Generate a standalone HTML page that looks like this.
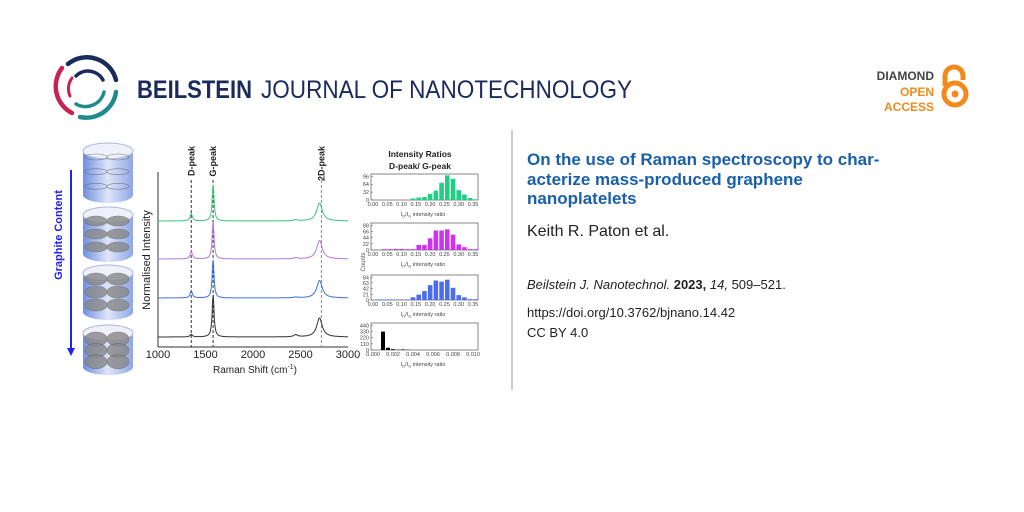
<!DOCTYPE html>
<html><head><meta charset="utf-8"><style>
body{margin:0;width:1024px;height:512px;background:#fff;overflow:hidden;position:relative;font-family:"Liberation Sans",sans-serif}
.a{position:absolute;white-space:nowrap}
</style></head><body>
<svg width="1024" height="512" style="position:absolute;left:0;top:0">
 <g fill="none" stroke-width="4.5" stroke-linecap="round">
  <path d="M68 64 A30 30 0 0 1 116 80" stroke="#1b2a5c"/>
  <path d="M116 92 A30 30 0 0 1 80 117" stroke="#1d8a8c"/>
  <path d="M72 113 A30 30 0 0 1 62 68" stroke="#c8234f"/>
  <path d="M76 76 A17 17 0 0 1 103 80" stroke="#1b2a5c" stroke-width="3.5"/>
  <path d="M104 92 A19 19 0 0 1 76 104" stroke="#1d8a8c" stroke-width="3.5"/>
  <path d="M70 96 A18 18 0 0 1 72 78" stroke="#c8234f" stroke-width="3"/>
 </g>
 <text x="137" y="98" font-size="25" font-weight="bold" fill="#1b2a5c" font-family="Liberation Sans" textLength="115" lengthAdjust="spacingAndGlyphs">BEILSTEIN</text>
 <text x="261" y="98" font-size="25" fill="#1b2a5c" font-family="Liberation Sans" textLength="371" lengthAdjust="spacingAndGlyphs">JOURNAL OF NANOTECHNOLOGY</text>
 <text x="934" y="80" font-size="12" font-weight="bold" fill="#444" text-anchor="end" font-family="Liberation Sans">DIAMOND</text>
 <text x="934" y="96" font-size="12" font-weight="bold" fill="#f08a1c" text-anchor="end" font-family="Liberation Sans">OPEN</text>
 <text x="934" y="111" font-size="12" font-weight="bold" fill="#f08a1c" text-anchor="end" font-family="Liberation Sans">ACCESS</text>
 <g fill="none" stroke="#f08a1c" stroke-width="5">
  <path d="M945 86 V76 A9 9 0 0 1 963 76 V80"/>
  <circle cx="955" cy="94" r="11"/>
  <circle cx="955" cy="94" r="3.5" fill="#f08a1c" stroke="none"/>
 </g>
 <line x1="512" y1="130" x2="512" y2="390" stroke="#999" stroke-width="1"/>
</svg>

<div class="a" style="left:527px;top:150px;font-size:17px;font-weight:bold;color:#1a5faa;line-height:19.5px">On the use of Raman spectroscopy to char-<br>acterize mass-produced graphene<br>nanoplatelets</div>
<div class="a" style="left:527px;top:223px;font-size:16px;color:#222">Keith R. Paton et al.</div>
<div class="a" style="left:527px;top:277px;font-size:13px;color:#222"><i>Beilstein J. Nanotechnol.</i> <b>2023,</b> <i>14,</i> 509–521.</div>
<div class="a" style="left:527px;top:305px;font-size:13px;color:#222">https://doi.org/10.3762/bjnano.14.42</div>
<div class="a" style="left:527px;top:325px;font-size:13px;color:#222">CC BY 4.0</div>

<svg id="fig" width="1024" height="512" style="position:absolute;left:0;top:0" font-family="Liberation Sans"></svg>
<script>
// Raman spectra data: peak positions, per-trace peak heights (px-normalised units)
const peakPositions=[1350,1580,2450,2700];
const peakWidths=[15,12,25,35];
const traceNames=['green','purple','blue','black'];
const traceColors=['#3cc47c','#b07ad8','#3d6fe0','#333333'];
const heightsGreen=[0.2,1.0,0.03,0.5];
const heightsPurple=[0.2,1.0,0.03,0.5];
const heightsBlue=[0.18,1.0,0.02,0.46];
const heightsBlack=[0.06,1.0,0.05,0.45];
const xTicks=[1000,1500,2000,2500,3000];
// Histograms
const binsRatio=[0.02,0.04,0.06,0.08,0.10,0.12,0.14,0.16,0.18,0.20,0.22,0.24,0.26,0.28,0.30,0.32,0.34,0.36];
const countsGreen=[0,0,0,0,0,0,6,10,12,25,38,70,100,86,40,22,8,3];
const countsPurple=[0,3,3,4,4,3,3,18,18,42,70,70,74,55,20,10,3,3];
const countsBlue=[2,2,2,2,2,2,10,20,33,55,72,68,75,45,18,10,3,3];
const binsBlack=[0.001,0.0015,0.002,0.0025,0.003,0.0035];
const countsBlack=[330,40,15,5,10,4];
const ticksRatio=[0,0.05,0.10,0.15,0.20,0.25,0.30,0.35];
const ticksBlack=[0,0.002,0.004,0.006,0.008,0.010];
const yTicksGreen=[0,32,64,96];
const yTicksPurple=[0,22,44,66,88];
const yTicksBlue=[0,21,42,63,84];
const yTicksBlack=[0,110,220,330,440];

const svg=document.getElementById('fig');
const NS='http://www.w3.org/2000/svg';
function mk(t,a,p){const e=document.createElementNS(NS,t);for(const k in a)e.setAttribute(k,a[k]);(p||svg).appendChild(e);return e;}
function txt(x,y,s,size,extra){const e=mk('text',Object.assign({x:x,y:y,'font-size':size,fill:'#222'},extra||{}));e.textContent=s;return e;}

// left illustration
const ill=mk('g',{});


const defs=mk('defs',{});
const lg=mk('linearGradient',{id:'cyl',x1:0,x2:1,y1:0,y2:0},defs);
mk('stop',{offset:0,'stop-color':'#6f8fe0'},lg);mk('stop',{offset:0.5,'stop-color':'#dfe6f8'},lg);mk('stop',{offset:1,'stop-color':'#8fa6e6'},lg);
const cylTops=[143,207,265,325],cylH=[60,55,55,50];
cylTops.forEach((t,i)=>{
 const g=mk('g',{},ill);
 
 
 mk('path',{d:`M83 ${t+8} V${t+cylH[i]-8} A25 8 0 0 0 133 ${t+cylH[i]-8} V${t+8}`,fill:'url(#cyl)'},g);
 mk('ellipse',{cx:108,cy:t+8,rx:25,ry:8,fill:'#eef1fa',stroke:'#aab6dd'},g);
 for(let k=0;k<6;k++){mk('ellipse',{cx:96+(k%2)*22,cy:t+14+Math.floor(k/2)*(cylH[i]-16)/3,rx:11,ry:i==0?3:4+i,fill:i==0?'none':'#888',stroke:'#666','stroke-width':0.6,opacity:0.8},g);}
});
mk('line',{x1:71,y1:170,x2:71,y2:350,stroke:'#2222ee','stroke-width':2},ill);
mk('path',{d:'M67 348 L75 348 L71 356 Z',fill:'#2222ee'},ill);
const gc=txt(0,0,'Graphite Content',11,{fill:'#2222ee','font-weight':'bold','text-anchor':'middle',transform:'translate(62,235) rotate(-90)'});



// spectra
const X0=158,X1=348,Ybot=347;
const sx=v=>X0+(v-1000)/2000*(X1-X0);
const sp=mk('g',{});


mk('line',{x1:X0,y1:172,x2:X0,y2:Ybot,stroke:'#333'},sp);
mk('line',{x1:X0,y1:Ybot,x2:X1,y2:Ybot,stroke:'#333'},sp);
xTicks.forEach(v=>{const t=txt(sx(v),358,String(v),11,{'text-anchor':'middle'},sp);});
const xt=txt(255,373,'Raman Shift (cm',10,{'text-anchor':'middle'});xt.innerHTML='Raman Shift (cm<tspan dy="-4" font-size="7">-1</tspan><tspan dy="4">)</tspan>';


const yt=txt(0,0,'Normalised Intensity',11,{'text-anchor':'middle',transform:'translate(150,260) rotate(-90)'});


const peakLabels=['D-peak','G-peak','','2D-peak'];
[0,1,3].forEach(i=>{
 const x=sx(peakPositions[i]+(i==3?20:0));
 const l=mk('line',{x1:x,y1:180,x2:x,y2:Ybot,stroke:i==3?'#888':'#333','stroke-dasharray':'3,2'},sp);
 
 
 const t=txt(0,0,peakLabels[i],9,{'font-weight':'bold','text-anchor':'end',transform:`translate(${x+3},146) rotate(-90)`});
 
 
});
const baselines=[221,259,298,337],scales=[36,37,38,42];
[heightsGreen,heightsPurple,heightsBlue,heightsBlack].forEach((h,ti)=>{
 let d='';
 for(let w=1000;w<=3000;w+=4){
  let y=0;peakPositions.forEach((p,k)=>{const g=peakWidths[k];y+=h[k]*g*g/((w-p)*(w-p)+g*g);});
  d+=(w==1000?'M':'L')+sx(w).toFixed(1)+' '+(baselines[ti]-y*scales[ti]).toFixed(1);
 }
 const p=mk('path',{d:d,fill:'none',stroke:traceColors[ti],'stroke-width':1},sp);
 
 
});

// histograms
const tt=txt(420,157,'Intensity Ratios',8.5,{'text-anchor':'middle','font-weight':'bold'});


const tt2=txt(420,169,'D-peak/ G-peak',8.5,{'text-anchor':'middle','font-weight':'bold'});


const ct=txt(0,0,'Counts',6,{'text-anchor':'middle',fill:'#555',transform:'translate(365,262) rotate(-90)'});


function hist(name,top,bot,bins,counts,yt,xticks,color,bw,fmt){
 const g=mk('g',{});
 
 
 const L=371,R=478,xa=373,xb=473;
 const hx=v=>xa+v/xticks[xticks.length-1]*(xb-xa);
 const ymax=yt[yt.length-1]*1.1;
 const hy=v=>bot-v/ymax*(bot-top);
 mk('rect',{x:L,y:top,width:R-L,height:bot-top,fill:'none',stroke:'#555','stroke-width':0.7},g);
 bins.forEach((b,i)=>{const w=bw*(xb-xa)/xticks[xticks.length-1];const r=mk('rect',{x:hx(b)-w*0.4,y:hy(counts[i]),width:w*0.8,height:bot-hy(counts[i]),fill:color},g);});
 yt.forEach(v=>{txt(L-2,hy(v)+2,String(v),5.5,{'text-anchor':'end',fill:'#444'},g);mk('line',{x1:L,y1:hy(v),x2:L+2,y2:hy(v),stroke:'#555','stroke-width':0.5},g);});
 xticks.forEach(v=>{txt(hx(v),bot+6,v.toFixed(fmt),5.5,{'text-anchor':'middle',fill:'#444'},g);});
 const lab=mk('text',{x:423,y:bot+16,'font-size':5.5,fill:'#444','text-anchor':'middle'},g);
 lab.innerHTML='I<tspan font-size="4" dy="1.5">D</tspan><tspan dy="-1.5">/I</tspan><tspan font-size="4" dy="1.5">G</tspan><tspan dy="-1.5"> intensity ratio</tspan>';
}
hist('green',174,200,binsRatio,countsGreen,yTicksGreen,ticksRatio,'#1fcf84',0.02,2);
hist('purple',223,250,binsRatio,countsPurple,yTicksPurple,ticksRatio,'#cc33f0',0.02,2);
hist('blue',275,300,binsRatio,countsBlue,yTicksBlue,ticksRatio,'#4a6cf0',0.02,2);
hist('black',323,350,binsBlack,countsBlack,yTicksBlack,ticksBlack,'#000',0.0005,3);
</script>
</body></html>
